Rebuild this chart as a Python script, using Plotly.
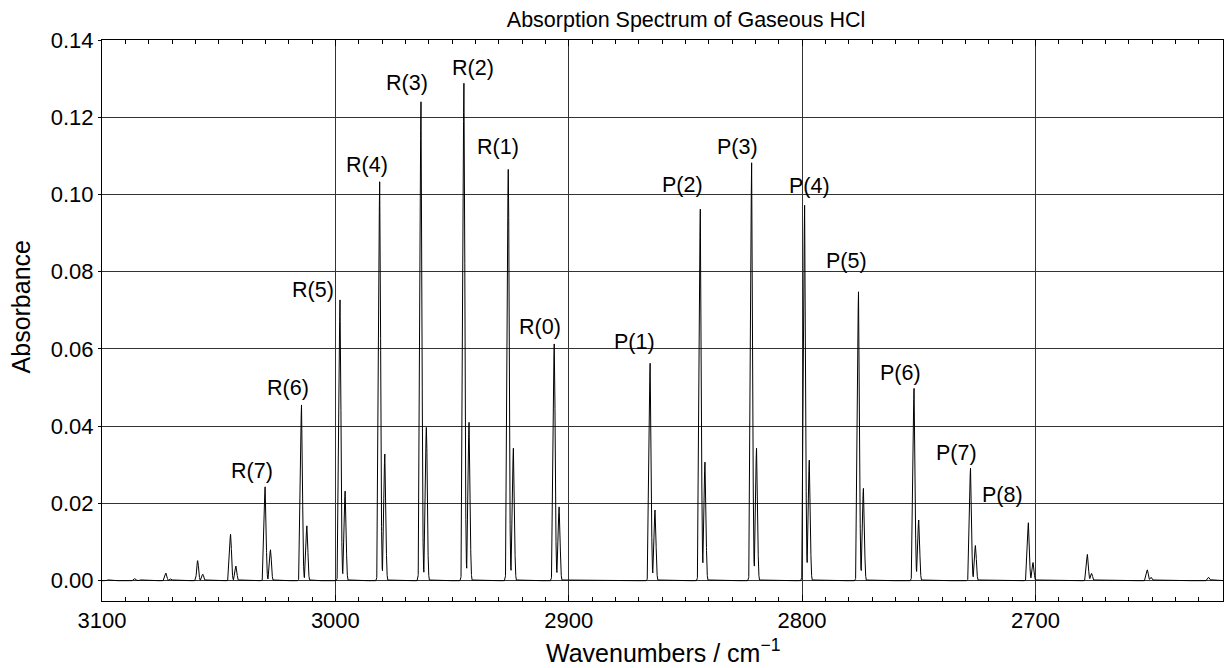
import numpy as np
import plotly.graph_objects as go

# ---- data (line centres in cm^-1, peak absorbance) ----
# H35Cl R branch, R(0)..R(12)
r35_pos = [2906.2, 2925.9, 2944.9, 2963.3, 2981.0, 2998.0, 3014.5, 3030.1, 3044.9, 3059.0, 3072.6, 3085.8, 3097.5]
r35_abs = [0.0613, 0.1065, 0.1288, 0.1240, 0.1033, 0.0727, 0.0455, 0.0243, 0.0120, 0.0052, 0.0020, 0.0006, 0.0002]
# H35Cl P branch, P(1)..P(11)
p35_pos = [2865.1, 2843.6, 2821.6, 2798.9, 2775.8, 2752.0, 2727.8, 2703.0, 2677.7, 2652.0, 2625.7]
p35_abs = [0.0563, 0.0962, 0.1082, 0.0972, 0.0748, 0.0498, 0.0291, 0.0150, 0.0068, 0.0028, 0.0009]
# H37Cl R branch, R(0)..R(11)
r37_pos = [2904.1, 2923.7, 2942.7, 2961.0, 2978.8, 2995.8, 3012.2, 3027.8, 3042.6, 3056.8, 3070.4, 3083.5]
r37_abs = [0.0191, 0.0343, 0.0410, 0.0397, 0.0328, 0.0232, 0.0142, 0.0080, 0.0038, 0.0017, 0.0005, 0.0002]
# H37Cl P branch, P(1)..P(11)
p37_pos = [2863.0, 2841.6, 2819.5, 2796.9, 2773.7, 2750.0, 2725.7, 2701.0, 2675.9, 2650.3, 2624.2]
p37_abs = [0.0183, 0.0307, 0.0343, 0.0312, 0.0239, 0.0157, 0.0091, 0.0047, 0.0019, 0.0009, 0.0003]

r_labels = ["R(0)", "R(1)", "R(2)", "R(3)", "R(4)", "R(5)", "R(6)", "R(7)"]
p_labels = ["P(1)", "P(2)", "P(3)", "P(4)", "P(5)", "P(6)", "P(7)", "P(8)"]

# ---- label offsets (pixels) relative to each labelled peak top ----
r_dx = [-14, -10.6, 8.6, -14, -12.6, -27.3, -13.7, -13.3]
r_dy = [17.3, 22, 15, 19, 16.7, 10, 16.7, 16]
p_dx = [-15.3, -18, -14.6, 5.3, -11.6, -13.7, -14.3, -26.3]
p_dy = [21.6, 24.3, 16, 19.6, 31, 15, 15, 27.7]

# ---- build the spectrum trace from the line list (Gaussian line shape) ----
SIGMA = 0.4
wn = np.arange(2619.0, 3100.5, 0.02)
spec = np.zeros_like(wn)
for pos, amp in zip(r35_pos + p35_pos + r37_pos + p37_pos,
                    r35_abs + p35_abs + r37_abs + p37_abs):
    spec += amp * np.exp(-0.5 * ((wn - pos) / SIGMA) ** 2)

FONT = "Liberation Sans, Arial, sans-serif"

fig = go.Figure()
fig.add_trace(go.Scatter(x=wn, y=spec, mode="lines",
                         line=dict(color="black", width=1),
                         hoverinfo="skip", showlegend=False))

annotations = []
for lab, i, dx, dy in zip(r_labels, range(8), r_dx, r_dy):
    annotations.append(dict(x=r35_pos[i], y=r35_abs[i], xref="x", yref="y", text=lab,
                            showarrow=False, xanchor="center", yanchor="middle",
                            xshift=dx, yshift=dy, font=dict(size=21.5, color="black", family=FONT)))
for lab, i, dx, dy in zip(p_labels, range(8), p_dx, p_dy):
    annotations.append(dict(x=p35_pos[i], y=p35_abs[i], xref="x", yref="y", text=lab,
                            showarrow=False, xanchor="center", yanchor="middle",
                            xshift=dx, yshift=dy, font=dict(size=21.5, color="black", family=FONT)))
# y-axis title
annotations.append(dict(x=-0.0714, y=0.525, xref="paper", yref="paper", text="Absorbance",
                        textangle=-90, showarrow=False, xanchor="center", yanchor="middle",
                        font=dict(size=25, color="black", family=FONT)))
# x-axis title
annotations.append(dict(x=0.5, y=-0.089, xref="paper", yref="paper",
                        text="Wavenumbers / cm<sup>\u22121</sup>",
                        showarrow=False, xanchor="center", yanchor="middle",
                        font=dict(size=25, color="black", family=FONT)))

fig.update_layout(
    width=1224, height=668,
    margin=dict(l=102, r=1, t=40, b=67, autoexpand=False),
    paper_bgcolor="white", plot_bgcolor="white",
    font=dict(family=FONT, color="black", size=22),
    title=dict(text="Absorption Spectrum of Gaseous HCl", x=0.5605, xanchor="center",
               y=1 - 19 / 668, yanchor="middle", font=dict(size=21.5, color="black", family=FONT)),
    annotations=annotations,
)
fig.update_xaxes(
    range=[3100, 2619.6], tickmode="linear", tick0=0, dtick=100, automargin=False,
    ticks="inside", ticklen=6, tickcolor="black", tickwidth=1,
    showline=True, linecolor="black", linewidth=1, mirror="ticks",
    showgrid=True, gridcolor="#333333", gridwidth=1, zeroline=False,
    tickfont=dict(size=22, color="black", family=FONT),
    minor=dict(dtick=10, tick0=0, ticks="inside", ticklen=4, tickcolor="black", showgrid=False),
)
fig.update_yaxes(
    range=[-0.00526, 0.14], tickmode="linear", tick0=0, dtick=0.02, tickformat=".2f",
    ticks="outside", ticklen=3, tickcolor="black", tickwidth=1, automargin=False,
    showline=True, linecolor="black", linewidth=1, mirror=True,
    showgrid=True, gridcolor="#333333", gridwidth=1, zeroline=False,
    tickfont=dict(size=22, color="black", family=FONT),
)

fig.write_html("out.html",
               config={"displayModeBar": False},
               post_script="document.body.style.margin='0px';"
                           "document.documentElement.style.overflow='hidden';")
